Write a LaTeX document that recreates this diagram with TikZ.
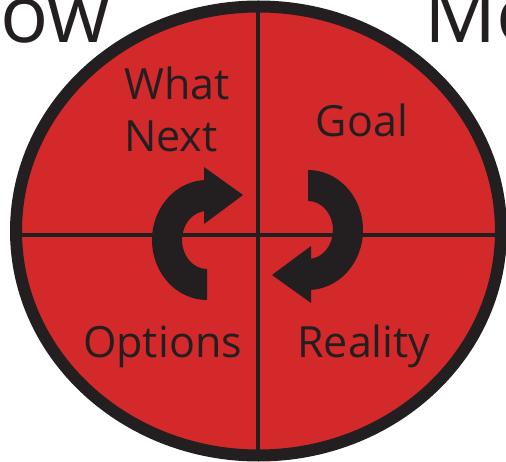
\documentclass[tikz,border=0pt]{standalone}
\usepackage{fontspec}
\setmainfont{Open Sans}
\definecolor{ink}{HTML}{231F20}
\definecolor{coachred}{HTML}{D4292A}
\tikzset{
  lbl/.style={inner sep=0pt, text=ink, font=\fontsize{43}{50}\selectfont, anchor=base},
  big/.style={inner sep=0pt, text=ink, font=\fontsize{80}{94}\selectfont, anchor=base},
  circarrow/.pic={
    \fill[ink] (0,60) arc[start angle=90, end angle=270, x radius=55, y radius=60]
      -- (-3,-60) -- (-3,-73) -- (36,-45) -- (-3,-16) -- (-3,-29) -- (0,-29)
      arc[start angle=270, end angle=90, x radius=25, y radius=29] -- cycle;
  }
}
\begin{document}
\begin{tikzpicture}[x=1pt,y=-1pt]
\useasboundingbox (0,0) rectangle (506,462);
\begin{scope}
\clip (0,0) rectangle (506,462);
\node[big, anchor=base east] (ow) at (110,43) {ow};
\node[big, anchor=base west] (mo) at (424,43) {Mo};
\fill[coachred] (258.5,231) ellipse[x radius=242.5, y radius=224.5];
\begin{scope}
\clip (258.5,231) ellipse[x radius=242.5, y radius=224.5];
\draw[ink, line width=4.8pt] (258,0) -- (258,462);
\draw[ink, line width=4.8pt] (0,235) -- (506,235);
\end{scope}
\draw[ink, line width=12pt] (258.5,231) ellipse[x radius=242.5, y radius=224.5];
\pic at (207,240) {circarrow};
\pic[rotate=180] at (308,230) {circarrow};
\node[lbl, anchor=base west] (what) at (124,100) {What};
\node[lbl, anchor=base west] (next) at (124,152) {Next};
\node[lbl] (goal) at (362,137) {Goal};
\node[lbl] (options) at (162.5,357) {Options};
\node[lbl] (reality) at (364,357) {Reality};
\end{scope}
\end{tikzpicture}
\end{document}
